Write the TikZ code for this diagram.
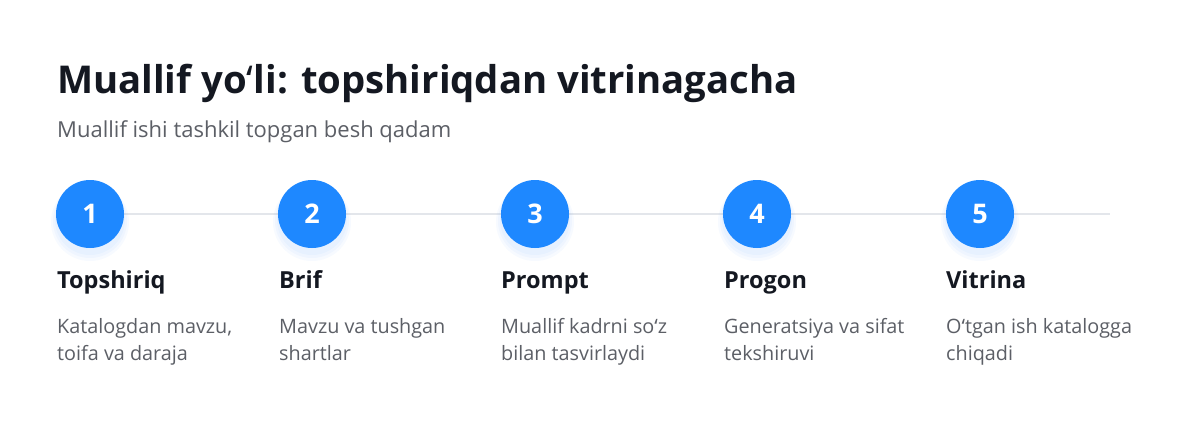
\documentclass[tikz,border=0pt]{standalone}
\usepackage{fontspec}
\setmainfont{Open Sans}
\newfontfamily\markfont{Noto Sans}
\newcommand{\okina}{{\markfont ʻ}}
\usetikzlibrary{positioning}
\definecolor{stepblue}{HTML}{1E88FF}
\definecolor{inkdark}{HTML}{141821}
\definecolor{inkgrey}{HTML}{5C5F66}
\definecolor{railgrey}{HTML}{E3E6EB}
\tikzset{
  % Pixel grid, y runs downwards
  x=1pt, y=-1pt,
  % Step circle
  stepdot/.style={draw=none, fill=stepblue, shape=circle, minimum size=68pt,
    inner sep=0pt, text=white, font=\fontsize{27}{27}\selectfont\bfseries},
  % Soft glow under a step circle
  glow/.style={fill=stepblue, shape=circle, minimum size=#1, inner sep=0pt,
    fill opacity=0.035},
  % Step heading
  steptitle/.style={anchor=base west, inner sep=0pt, text=inkdark,
    font=\fontsize{23.5}{23.5}\selectfont\bfseries},
  % Step description (anchored at its last line)
  stepnote/.style={anchor=base west, inner sep=0pt, text=inkgrey, align=left,
    font=\fontsize{19.8}{27}\selectfont},
}
\begin{document}
\begin{tikzpicture}
  \useasboundingbox[fill=white] (0,0) rectangle (1200,440);

  % Heading
  \node[anchor=base west, inner sep=0pt, text=inkdark,
    font=\fontsize{38.3}{38.3}\selectfont\bfseries] (head) at (57,93)
    {Muallif yo\okina li: topshiriqdan vitrinagacha};
  \node[anchor=base west, inner sep=0pt, text=inkgrey,
    font=\fontsize{22}{22}\selectfont] (subhead) at (57,137)
    {Muallif ishi tashkil topgan besh qadam};

  % Rail behind the steps
  \coordinate (railstart) at (90,214);
  \coordinate (railend) at (1110,214);
  \draw[railgrey, line width=2pt] (railstart) -- (railend);

  % Glow
  \foreach \x in {90,312,535,757,980} {
    \node[glow=70pt] at (\x,220) {};
    \node[glow=74pt] at (\x,221) {};
    \node[glow=78pt] at (\x,222) {};
  }

  % Steps
  \node[stepdot] (step1) at (90,214) {1};
  \node[stepdot] (step2) at (312,214) {2};
  \node[stepdot] (step3) at (535,214) {3};
  \node[stepdot] (step4) at (757,214) {4};
  \node[stepdot] (step5) at (980,214) {5};

  \node[steptitle] (title1) at (57,288) {Topshiriq};
  \node[steptitle] (title2) at (279,288) {Brif};
  \node[steptitle] (title3) at (501,288) {Prompt};
  \node[steptitle] (title4) at (724,288) {Progon};
  \node[steptitle] (title5) at (946,288) {Vitrina};

  \node[stepnote] (note1) at (57,360) {Katalogdan mavzu,\\toifa va daraja};
  \node[stepnote] (note2) at (279,360) {Mavzu va tushgan\\shartlar};
  \node[stepnote] (note3) at (501,360) {Muallif kadrni so\okina z\\bilan tasvirlaydi};
  \node[stepnote] (note4) at (724,360) {Generatsiya va sifat\\tekshiruvi};
  \node[stepnote] (note5) at (946,360) {O\okina tgan ish katalogga\\chiqadi};
\end{tikzpicture}
\end{document}
